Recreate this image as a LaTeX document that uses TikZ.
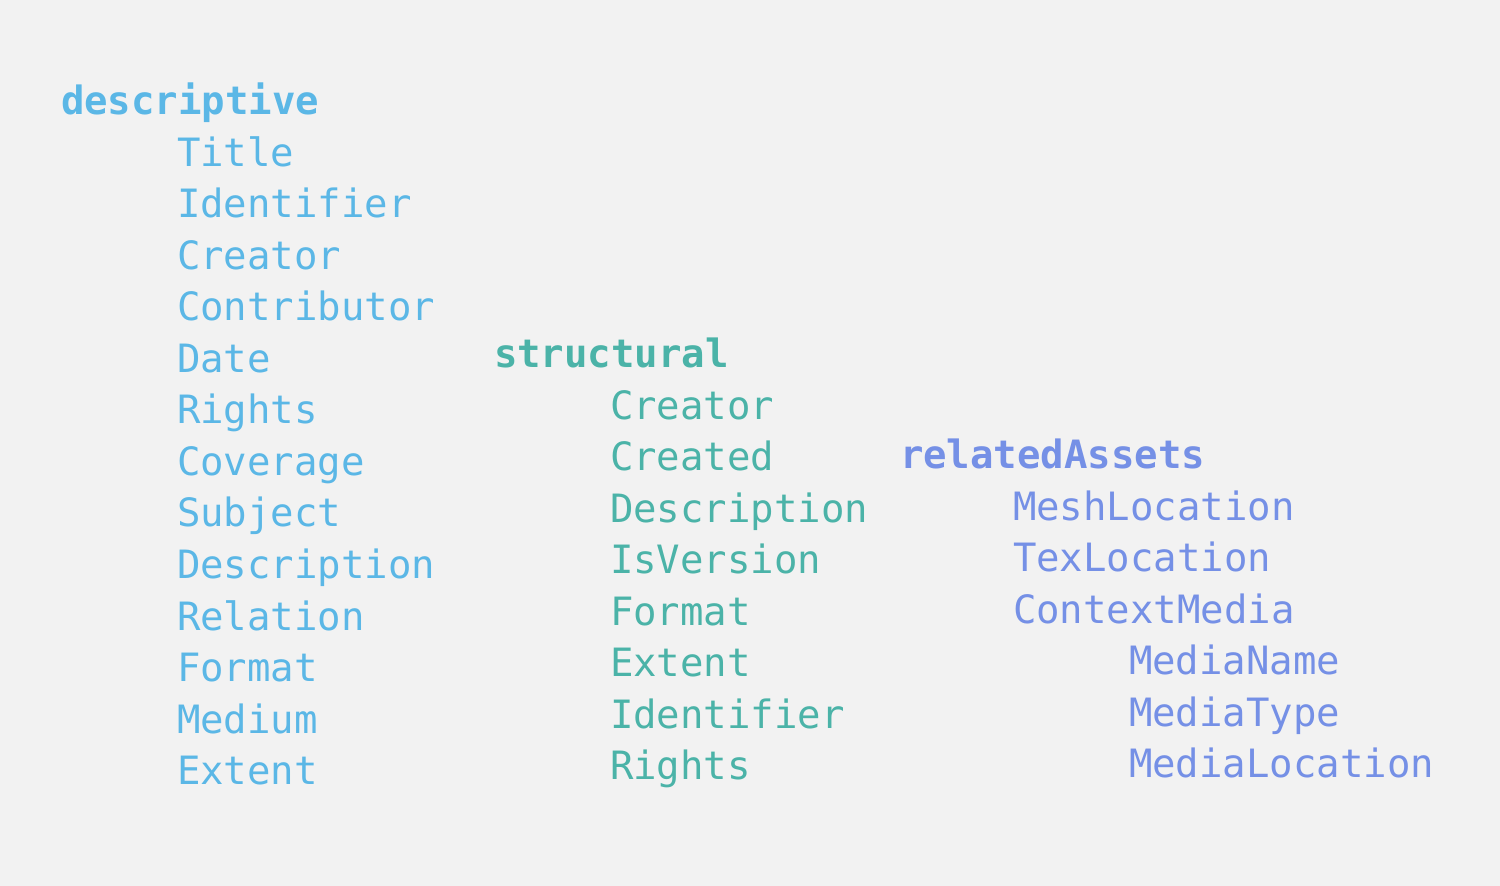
\documentclass[tikz,border=0pt]{standalone}
\usepackage{fontspec}
\newfontfamily\monofam{DejaVu Sans Mono}
\definecolor{bgc}{HTML}{F2F2F2}
\definecolor{descc}{HTML}{5BB7E6}
\definecolor{strc}{HTML}{4BB3A8}
\definecolor{relc}{HTML}{7590E6}
\begin{document}
\begin{tikzpicture}[x=1pt,y=-1pt,
  txt/.style={anchor=base west,inner sep=0pt,outer sep=0pt,font=\monofam\fontsize{39}{46}\selectfont},
  head/.style={txt,font=\monofam\bfseries\fontsize{39}{46}\selectfont}]
\fill[bgc] (0,0) rectangle (1500,886);
\useasboundingbox (0,0) rectangle (1500,886);
% descriptive
\node[head,descc] (d0) at (61,114.5) {descriptive};
\foreach \t [count=\i] in {Title,Identifier,Creator,Contributor,Date,Rights,Coverage,Subject,Description,Relation,Format,Medium,Extent}
  \node[txt,descc] (d\i) at (177,{114.5+51.55*\i}) {\t};
% structural
\node[head,strc] (s0) at (494,367.5) {structural};
\foreach \t [count=\i] in {Creator,Created,Description,IsVersion,Format,Extent,Identifier,Rights}
  \node[txt,strc] (s\i) at (610,{367.5+51.55*\i}) {\t};
% relatedAssets
\node[head,relc] (r0) at (900,468.5) {relatedAssets};
\node[txt,relc] (r1) at (1013,520) {MeshLocation};
\node[txt,relc] (r2) at (1013,571.6) {TexLocation};
\node[txt,relc] (r3) at (1013,623.1) {ContextMedia};
\node[txt,relc] (r4) at (1129,674.7) {MediaName};
\node[txt,relc] (r5) at (1129,726.2) {MediaType};
\node[txt,relc] (r6) at (1129,777.8) {MediaLocation};
\end{tikzpicture}
\end{document}
